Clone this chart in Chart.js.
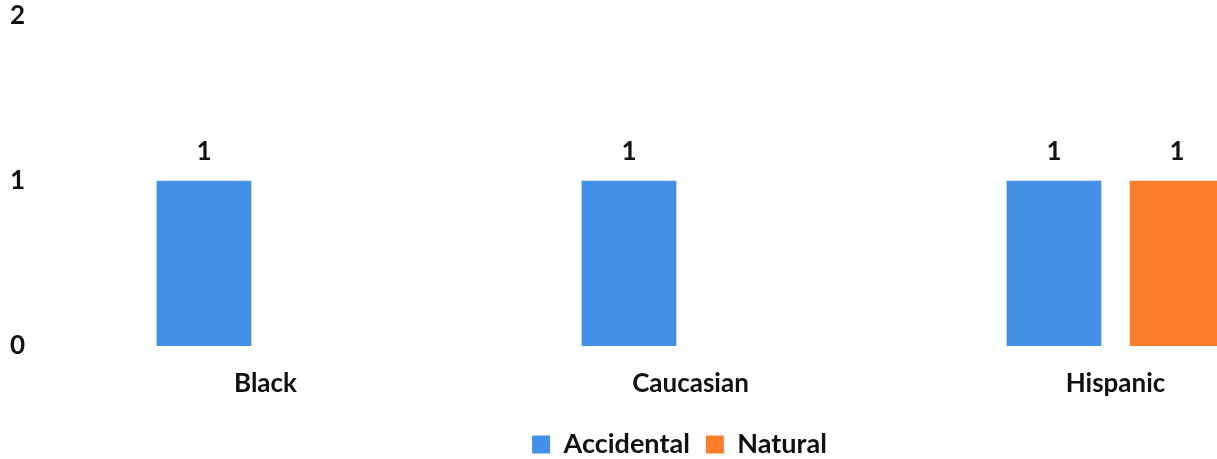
<!DOCTYPE html>
<html lang="en">
    <head>
        <title>Deaths by race</title>
        <meta charset="UTF-8">
        <script src="https://cdn.jsdelivr.net/npm/chart.js"></script>
        <style>
            html, body { margin: 0; padding: 0; background: #fff; overflow: hidden; }
            .chart { width: 1349px; height: 468px; }
        </style>
    </head>
    <body>
        <div class="chart">
            <canvas id="myChart" width="1349" height="468"></canvas>
        </div>

    <script>
        const categories = ['Black', 'Caucasian', 'Hispanic'];
        const accidental = [1, 1, 1];
        const natural = [0, 0, 1];
        const yTicks = [0, 1, 2];

        const FONT = 'Lato, "Open Sans", sans-serif';

        // value labels above the bars (skip zeros)
        const valueLabels = {
            id: 'valueLabels',
            afterDatasetsDraw(chart) {
                const ctx = chart.ctx;
                ctx.save();
                ctx.font = 'bold 26px ' + FONT;
                ctx.fillStyle = '#111';
                ctx.textAlign = 'center';
                ctx.textBaseline = 'middle';
                chart.data.datasets.forEach((ds, i) => {
                    const meta = chart.getDatasetMeta(i);
                    meta.data.forEach((bar, j) => {
                        if (!ds.data[j]) return;
                        ctx.fillText(ds.data[j], bar.x, bar.y - 29);
                    });
                });
                ctx.restore();
            }
        };

        const myChart = document.getElementById('myChart').getContext('2d');
        const barChart = new Chart(myChart, {
            type: 'bar',
            data: {
                labels: categories,
                datasets: [{
                    label: 'Accidental',
                    data: accidental,
                    backgroundColor: '#4390E6',
                }, {
                    label: 'Natural',
                    data: natural,
                    backgroundColor: '#FD7E2A',
                }],
            },
            options: {
                responsive: false,
                animation: false,
                categoryPercentage: 0.579,
                barPercentage: 0.77,
                layout: { padding: { top: 0, left: 10, right: 0, bottom: 0 } },
                scales: {
                    x: {
                        grid: { display: false, drawTicks: false },
                        border: { display: false },
                        ticks: {
                            color: '#111',
                            font: { family: FONT, size: 26, weight: 'bold' },
                            padding: 22,
                            maxRotation: 0,
                        },
                        afterFit(s) { s.height = 69; },
                    },
                    y: {
                        min: 0,
                        max: 2,
                        grid: { display: false, drawTicks: false },
                        border: { display: false },
                        afterBuildTicks(s) { s.ticks = yTicks.map(v => ({ value: v })); },
                        ticks: {
                            color: '#111',
                            font: { family: FONT, size: 26, weight: 'bold' },
                            padding: 0,
                            crossAlign: 'far',
                        },
                        afterFit(s) { s.width = 43; },
                    },
                    y2: {
                        position: 'right',
                        grid: { display: false, drawTicks: false },
                        border: { display: false },
                        ticks: { display: false },
                        afterFit(s) { s.width = 21; },
                    },
                },
                plugins: {
                    legend: {
                        position: 'bottom',
                        labels: {
                            color: '#111',
                            font: { family: FONT, size: 27, weight: 'bold' },
                            boxWidth: 18,
                            boxHeight: 18,
                            padding: 16,
                        },
                    },
                    tooltip: { enabled: false },
                },
            },
            plugins: [valueLabels],
        });
    </script>
    </body>
</html>
